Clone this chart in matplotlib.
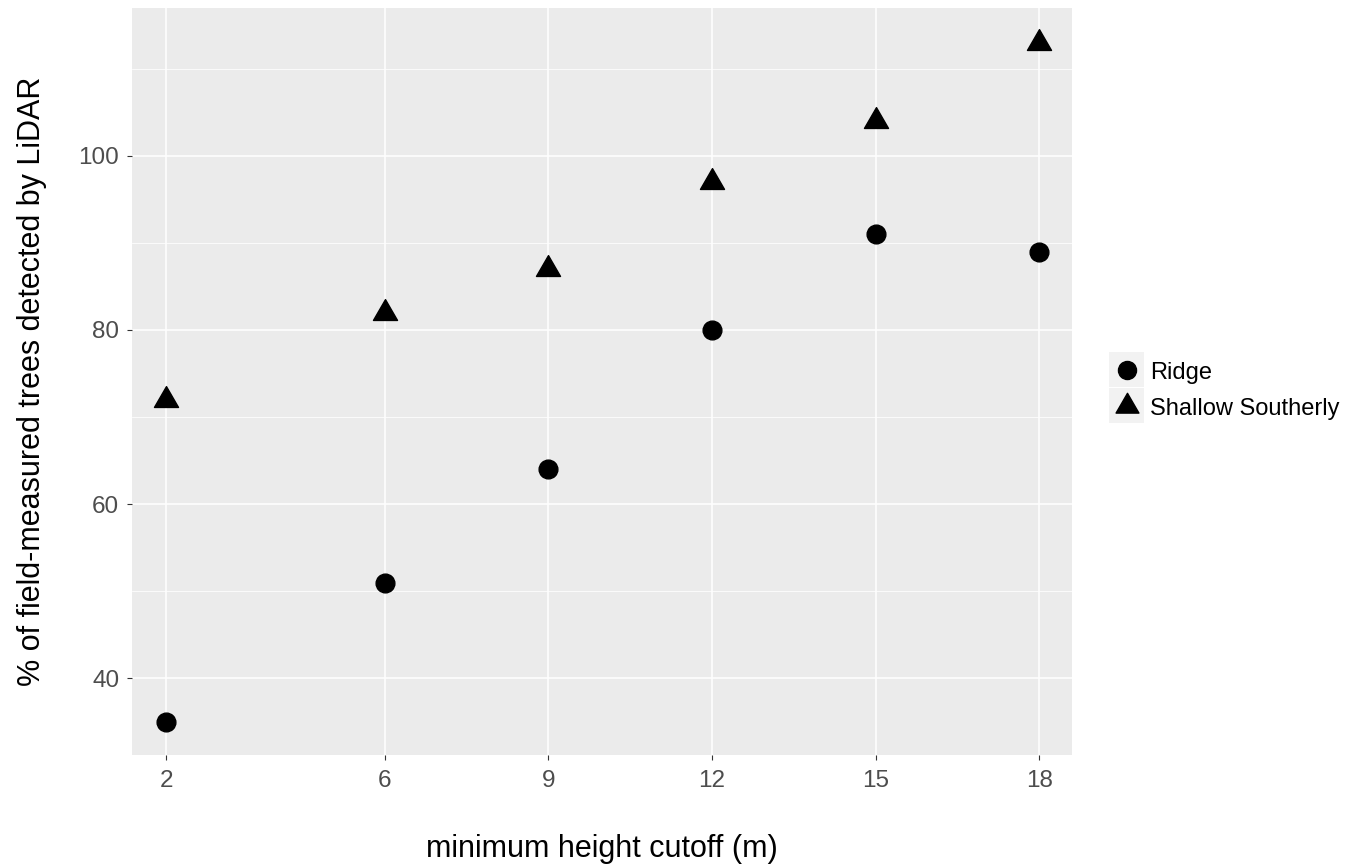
import numpy as np
import matplotlib.pyplot as plt
from matplotlib.lines import Line2D
from matplotlib.patches import Rectangle
from matplotlib.path import Path

plt.rcParams['font.family'] = ['Liberation Sans', 'DejaVu Sans']

# datos
cutoff = [2, 6, 9, 12, 15, 18]
ridge = [35, 51, 64, 80, 91, 89]
shallow = [72, 82, 87, 97, 104, 113]
groups = ["Ridge", "Shallow Southerly"]
x_ticks = [2, 6, 9, 12, 15, 18]
y_ticks = [40, 60, 80, 100]
y_minor = [50, 70, 90, 110]

W, H = 1359, 865
fig = plt.figure(figsize=(W / 100, H / 100), dpi=100)

def fx(px):
    return px / W

def fy(py):
    return 1 - py / H

# panel en píxeles: izq 132, der 1072, arriba 8, abajo 755
ax = fig.add_axes([fx(132), fy(755), fx(1072) - fx(132), fy(8) - fy(755)])
ax.set_facecolor('#EBEBEB')
for s in ax.spines.values():
    s.set_visible(False)

# triángulo centrado en su centroide (como ggplot shape 17)
tri = Path([(0, 1), (-0.866, -0.5), (0.866, -0.5), (0, 1)],
           [Path.MOVETO, Path.LINETO, Path.LINETO, Path.CLOSEPOLY])

ax.plot(cutoff, ridge, linestyle='none', marker='o', color='black', markersize=13.5, zorder=3)
ax.plot(cutoff, shallow, linestyle='none', marker=tri, color='black', markersize=20, zorder=3)

ax.set_xlim(1.37, 18.6)
ax.set_ylim(31.2, 116.97)
ax.set_xticks(x_ticks)
ax.set_yticks(y_ticks)
ax.set_yticks(y_minor, minor=True)
ax.grid(which='major', color='white', linewidth=1.1)
ax.grid(which='minor', axis='y', color='white', linewidth=0.55)
ax.set_axisbelow(True)
ax.tick_params(which='major', length=3.6, width=0.8, color='#333333',
               labelsize=17.5, labelcolor='#4D4D4D')
ax.tick_params(axis='x', pad=7.5)
ax.tick_params(axis='y', pad=5.5)
ax.tick_params(which='minor', length=0)

ax.set_xlabel("minimum height cutoff (m)", fontsize=22, labelpad=30)
ax.set_ylabel("% of field-measured trees detected by LiDAR", fontsize=22, labelpad=23)

# leyenda dibujada a mano
keys = [(352, 'o', 13), (388, tri, 19)]
for (top, mk, ms), lab in zip(keys, groups):
    fig.add_artist(Rectangle((fx(1109), fy(top + 35)), fx(35), 35 / H,
                             transform=fig.transFigure, facecolor='#F2F2F2', edgecolor='none'))
    fig.add_artist(Line2D([fx(1126.5)], [fy(top + 17.5)], transform=fig.transFigure,
                          marker=mk, color='black', markersize=ms, linestyle='none'))
    fig.text(fx(1150), fy(top + 21), lab, fontsize=17, color='black', va='center', ha='left')

plt.savefig('out.png', dpi=100)
